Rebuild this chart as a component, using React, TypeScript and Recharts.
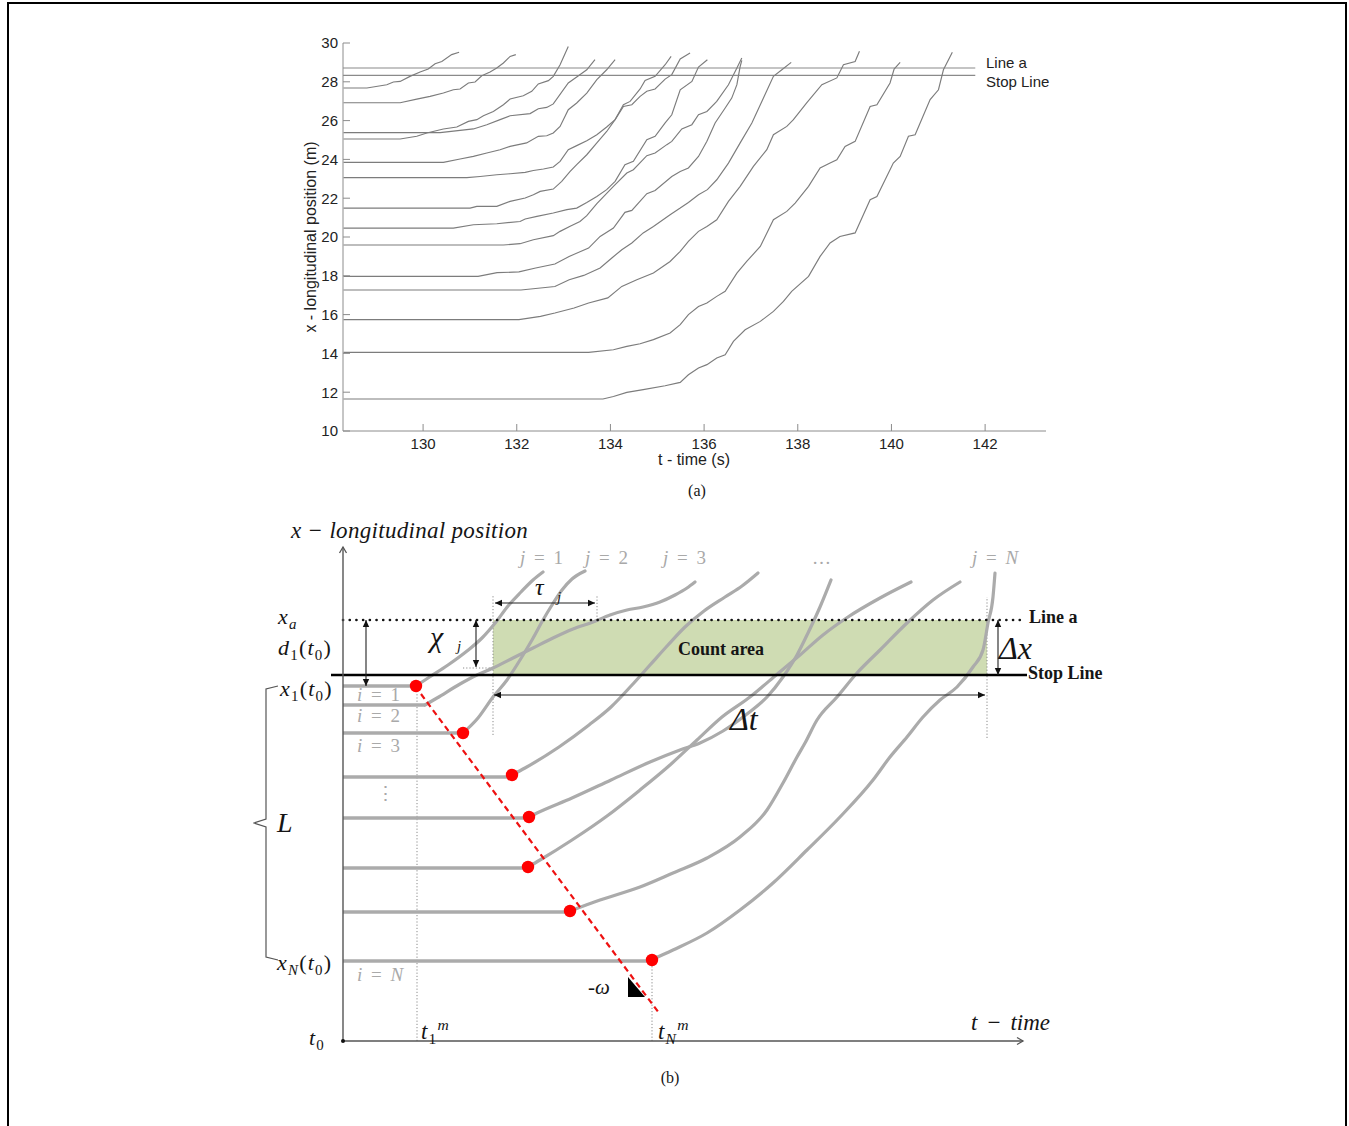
import React from 'react';
import { LineChart, Line, XAxis, YAxis, ComposedChart, Scatter, ReferenceArea } from 'recharts';

// ================= Panel (a): measured trajectories =================
const T_TICKS = [130, 132, 134, 136, 138, 140, 142];
const X_TICKS = [10, 12, 14, 16, 18, 20, 22, 24, 26, 28, 30];
const T_DOMAIN: [number, number] = [128.29, 143.3];
const X_DOMAIN: [number, number] = [10, 30];
const LINE_A_X = 28.71;
const STOP_LINE_X = 28.33;
const REF_T_RANGE = [128.29, 141.79];

const V1 = [[128.3,27.68],[128.8,27.68],[129.225,27.85],[129.366,27.99],[129.51,28.02],[129.72,28.28],[129.936,28.505],[130.11,28.66],[130.256,28.93],[130.4,29.05],[130.61,29.4],[130.769,29.52]];
const V2 = [[128.3,26.92],[129.51,26.92],[129.865,27.11],[130.15,27.25],[130.433,27.42],[130.647,27.59],[130.79,27.63],[130.967,27.94],[131.11,27.99],[131.253,28.31],[131.43,28.505],[131.573,28.71],[131.715,28.97],[131.858,29.31],[131.98,29.4]];
const V3 = [[128.3,25.05],[129.51,25.05],[129.865,25.19],[130.08,25.36],[130.433,25.57],[130.72,25.67],[130.967,25.96],[131.147,26.05],[131.288,26.25],[131.5,26.47],[131.715,26.82],[131.858,27.11],[132.14,27.28],[132.32,27.51],[132.46,27.89],[132.675,28.06],[132.78,28.28],[132.925,28.88],[133.1,29.82]];
const V4 = [[128.3,25.38],[130.363,25.38],[131.074,25.57],[131.36,25.79],[131.644,26.05],[131.858,26.25],[132.285,26.36],[132.46,26.61],[132.64,26.68],[132.78,26.86],[133.1,27.94],[133.28,28.25],[133.495,28.62],[133.67,29.14]];
const V5 = [[128.3,23.85],[130.433,23.85],[130.79,24.02],[131.074,24.155],[131.36,24.33],[131.644,24.5],[131.858,24.67],[132.21,24.85],[132.46,25.19],[132.64,25.22],[132.78,25.36],[132.925,25.7],[133.1,26.56],[133.28,26.91],[133.495,27.42],[133.71,28.11],[133.92,28.62],[134.1,29.14]];
const V6 = [[128.3,23.06],[130.933,23.06],[131.217,23.12],[131.574,23.21],[131.858,23.26],[132.18,23.33],[132.355,23.43],[132.57,23.505],[132.78,23.61],[132.925,23.9],[133.1,24.5],[133.28,24.71],[133.495,24.96],[133.71,25.27],[133.92,25.67],[134.1,26.05],[134.277,26.82],[134.42,26.99],[134.634,27.63],[134.74,28.07],[134.954,28.28],[135.168,28.88],[135.296,29.31]];
const V7 = [[128.3,21.49],[131.004,21.49],[131.147,21.58],[131.574,21.58],[131.858,21.835],[132.18,22.01],[132.355,22.18],[132.5,22.35],[132.78,22.47],[132.96,22.87],[133.14,23.38],[133.28,23.73],[133.495,24.24],[133.71,24.85],[133.92,25.44],[134.1,26.05],[134.277,26.73],[134.457,26.82],[134.634,27.25],[134.777,27.51],[134.954,27.63],[135.168,28.14],[135.31,28.37],[135.49,29.18],[135.7,29.48]];
const V8 = [[128.3,20.46],[130.647,20.46],[131.074,20.63],[131.574,20.685],[132.07,20.8],[132.18,20.93],[132.43,21.06],[132.78,21.24],[133.07,21.41],[133.28,21.49],[133.495,21.78],[133.71,22.09],[133.92,22.44],[134.1,22.87],[134.31,23.73],[134.49,23.9],[134.777,25.02],[134.954,25.19],[135.168,25.88],[135.31,26.3],[135.49,27.59],[135.74,28.02],[135.88,28.76],[136.07,29.14]];
const V9 = [[128.3,19.59],[131.715,19.59],[132.07,19.655],[132.355,19.86],[132.78,20.07],[132.925,20.29],[133.14,20.55],[133.35,20.8],[133.495,21.1],[133.71,21.72],[134.064,22.61],[134.35,23.3],[134.49,23.47],[134.777,24.19],[134.954,24.33],[135.204,24.76],[135.31,24.93],[135.524,25.57],[135.738,25.79],[135.88,26.3],[136.06,26.47],[136.27,26.99],[136.52,27.85],[136.7,28.71],[136.805,29.23]];
const V10 = [[128.3,17.97],[131.174,17.97],[131.58,18.16],[132.046,18.2],[132.404,18.4],[132.814,18.61],[133.118,19.0],[133.534,19.43],[133.78,20.03],[134.064,20.46],[134.31,21.27],[134.457,21.37],[134.777,22.23],[134.954,22.4],[135.31,23.12],[135.49,23.38],[135.665,23.56],[135.88,24.15],[136.06,24.93],[136.235,25.88],[136.45,26.65],[136.59,27.16],[136.7,27.85],[136.77,28.79],[136.805,29.1]];
const V11 = [[128.3,17.27],[132.09,17.27],[132.507,17.37],[132.814,17.45],[133.12,17.8],[133.43,18.02],[133.78,18.4],[134.03,18.92],[134.243,19.345],[134.457,19.69],[134.7,20.21],[134.918,20.545],[135.274,21.15],[135.49,21.49],[135.665,21.78],[135.88,22.18],[136.07,22.44],[136.27,22.95],[136.52,23.81],[136.77,24.85],[137.02,25.88],[137.267,27.16],[137.48,28.28],[137.66,28.62],[137.86,29.0]];
const V12 = [[128.3,15.74],[132.046,15.74],[132.507,15.91],[132.814,16.08],[133.224,16.34],[133.534,16.6],[133.944,16.86],[134.243,17.455],[134.563,17.8],[134.918,18.14],[135.274,18.74],[135.49,19.26],[135.665,19.77],[135.88,20.29],[136.06,20.545],[136.27,20.89],[136.52,21.835],[136.77,22.61],[137.053,23.64],[137.339,24.5],[137.48,25.27],[137.766,25.7],[137.907,26.05],[138.19,26.91],[138.514,27.85],[138.834,28.2],[138.975,28.88],[139.225,29.05],[139.317,29.57]];
const V13 = [[128.3,14.05],[133.534,14.05],[134.064,14.19],[134.35,14.36],[134.634,14.5],[134.918,14.71],[135.274,15.05],[135.49,15.48],[135.665,16.0],[135.88,16.42],[136.06,16.6],[136.27,16.94],[136.45,17.2],[136.7,18.14],[136.91,18.74],[137.2,19.515],[137.48,20.89],[137.766,21.32],[137.944,21.75],[138.23,22.61],[138.477,23.56],[138.69,23.81],[138.834,23.98],[139.01,24.67],[139.225,24.93],[139.545,26.73],[139.69,26.82],[139.97,27.94],[140.057,28.66],[140.186,29.0]];
const V14 = [[128.3,11.65],[133.84,11.65],[134.064,11.78],[134.35,11.99],[134.7,12.13],[135.168,12.335],[135.49,12.505],[135.665,12.9],[135.88,13.25],[136.06,13.42],[136.27,13.76],[136.45,13.93],[136.626,14.62],[136.876,15.22],[137.2,15.65],[137.48,16.165],[137.694,16.68],[137.87,17.2],[138.23,17.97],[138.477,19.0],[138.69,19.69],[138.9,20.03],[139.225,20.21],[139.545,21.92],[139.69,22.09],[140.04,23.81],[140.186,24.155],[140.363,25.19],[140.506,25.27],[140.826,27.08],[141.004,27.59],[141.11,28.62],[141.3,29.52]];
const VEHICLES_A = [V1, V2, V3, V4, V5, V6, V7, V8, V9, V10, V11, V12, V13, V14];

// ================= Panel (b): schematic (schematic units) =================
const STOP_LEVELS_B = [355, 336, 308, 264, 223, 173, 129, 80];
const STOP_ENDS_B = [72, 82, 120, 169, 186, 185, 227, 308];
const RED_DOTS_B = [[73,355],[120,308],[169,266],[186,224],[185,174],[227,130],[309,81]];
const SHOCK_LINE_B = [[72,355],[316,28]];
const C1 = [[73,355],[85,363],[105,376],[124,390],[139,403],[153,419],[165,435],[178,449],[190,461],[200,469]];
const C2 = [[82,336],[94,343],[117,357],[134,366],[150,373],[170,383],[190,393],[210,403],[230,412],[250,419],[267,426],[284,431],[300,434],[317,439],[332,446],[344,453],[352,459]];
const C3 = [[120,308],[135,323],[150,344],[164,361],[177,381],[189,401],[200,421],[209,436],[219,451],[229,462],[242,470]];
const C4 = [[169,266],[182,273],[216,294],[246,316],[268,334],[289,356],[307,376],[325,396],[342,414],[361,430],[382,444],[399,455],[415,468]];
const C5 = [[186,224],[194,228],[229,243],[268,261],[307,279],[337,291],[357,298],[380,310],[404,327],[424,344],[440,364],[454,386],[465,408],[477,434],[488,461]];
const C6 = [[185,174],[197,181],[229,201],[264,225],[297,251],[327,276],[354,301],[379,324],[407,344],[432,365],[457,386],[480,406],[505,424],[537,443],[568,459]];
const C7 = [[227,130],[257,141],[297,154],[330,168],[364,183],[397,204],[424,231],[440,258],[454,284],[462,298],[474,321],[494,344],[514,368],[537,391],[564,418],[590,441],[617,459]];
const C8 = [[308,81],[330,91],[364,108],[397,131],[430,158],[464,191],[497,224],[530,261],[547,284],[564,304],[580,324],[597,341],[614,354],[630,374],[640,391],[645,418],[650,444],[652,468]];
const CURVES_B = [C1, C2, C3, C4, C5, C6, C7, C8];

const COUNT_AREA_B = { t1: 150, t2: 644, x1: 366, x2: 421 };
const LINE_A_B = [[0,421],[682,421]];
const STOP_LINE_B = [[-12,366],[684,366]];
const AXIS_Y_B = [[0,0],[0,494]];
const AXIS_X_B = [[0,0],[680,0]];
const DOTTED_GUIDES_B = [
  [[150,306],[150,446]],
  [[644,303],[644,444]],
  [[254,421],[254,446]],
  [[74,0],[74,355]],
  [[309,0],[309,81]],
  [[120,373],[150,373]],
];
const ARROWS_B = [
  [[23,421],[23,355]],
  [[133,421],[133,374]],
  [[152,438],[252,438]],
  [[151,346],[642,346]],
  [[655,421],[655,366]],
];
const HEADS_B = [
  { T: 23, X: 421, dir: 'up' }, { T: 23, X: 355, dir: 'down' },
  { T: 133, X: 421, dir: 'up' }, { T: 133, X: 374, dir: 'down' },
  { T: 152, X: 438, dir: 'left' }, { T: 252, X: 438, dir: 'right' },
  { T: 151, X: 346, dir: 'left' }, { T: 642, X: 346, dir: 'right' },
  { T: 655, X: 421, dir: 'up' }, { T: 655, X: 366, dir: 'down' },
  { T: 0, X: 494, dir: 'up-open' }, { T: 680, X: 0, dir: 'right-open' },
];
const BRACE_B = [[-65,355],[-77,352],[-77,222],[-89,218],[-77,214],[-77,84],[-65,81]];
const OMEGA_MARK_B = [{ T: 285, X: 44 }];
const ORIGIN_B = [{ T: 0, X: 0 }];

const toA = (pts: number[][]) => pts.map(([t, x]) => ({ t, x }));
const toB = (pts: number[][]) => pts.map(([T, X]) => ({ T, X }));

const SERIF = "'Liberation Serif', 'Times New Roman', serif";
const SANS = "'Liberation Sans', Arial, Helvetica, sans-serif";
const GREY_TXT = '#a9a9a9';
const TRAJ = '#ababab';

const HeadShape = (props: any) => {
  const { cx, cy, payload } = props;
  const L = 7, W = 3.2;
  switch (payload.dir) {
    case 'up': return <polygon points={`${cx},${cy} ${cx - W},${cy + L} ${cx + W},${cy + L}`} fill="#111" />;
    case 'down': return <polygon points={`${cx},${cy} ${cx - W},${cy - L} ${cx + W},${cy - L}`} fill="#111" />;
    case 'left': return <polygon points={`${cx},${cy} ${cx + L},${cy - W} ${cx + L},${cy + W}`} fill="#111" />;
    case 'right': return <polygon points={`${cx},${cy} ${cx - L},${cy - W} ${cx - L},${cy + W}`} fill="#111" />;
    case 'up-open': return <path d={`M${cx - 3.5},${cy + 6} L${cx},${cy} L${cx + 3.5},${cy + 6}`} fill="none" stroke="#555" strokeWidth={1.3} />;
    case 'right-open': return <path d={`M${cx - 6},${cy - 3.5} L${cx},${cy} L${cx - 6},${cy + 3.5}`} fill="none" stroke="#555" strokeWidth={1.3} />;
    default: return <g />;
  }
};
const RedDot = (p: any) => <circle cx={p.cx} cy={p.cy} r={6.2} fill="#ff0000" />;
const OmegaTri = (p: any) => <polygon points={`${p.cx},${p.cy - 20} ${p.cx},${p.cy} ${p.cx + 17},${p.cy}`} fill="#000" />;
const OriginDot = (p: any) => <circle cx={p.cx} cy={p.cy} r={2} fill="#111" />;

type TxtProps = { x: number; y: number; size: number; children: React.ReactNode; color?: string; italic?: boolean; bold?: boolean; family?: string; center?: boolean; style?: React.CSSProperties };
const Txt = ({ x, y, size, children, color = '#151515', italic = false, bold = false, family = SERIF, center = false, style }: TxtProps) => (
  <div style={{ position: 'absolute', left: x, top: y, transform: center ? 'translate(-50%,-50%)' : 'translateY(-50%)', fontSize: size, lineHeight: 1, fontFamily: family, fontStyle: italic ? 'italic' : 'normal', fontWeight: bold ? 'bold' : 'normal', color, whiteSpace: 'nowrap', ...style }}>{children}</div>
);
const Sub = ({ children }: { children: React.ReactNode }) => <span style={{ fontSize: '0.68em', position: 'relative', top: '0.32em' }}>{children}</span>;
const Sup = ({ children }: { children: React.ReactNode }) => <span style={{ fontSize: '0.68em', position: 'relative', top: '-0.55em' }}>{children}</span>;

const MATH: React.CSSProperties = { letterSpacing: '1.2px' };
const IDX: React.CSSProperties = { wordSpacing: '4px' };

function PanelA() {
  return (
    <div style={{ position: 'absolute', left: 0, top: 0 }}>
      <LineChart width={1349} height={480} margin={{ top: 43, right: 303, bottom: 9, left: 303 }}>
        <XAxis type="number" dataKey="t" domain={T_DOMAIN} ticks={T_TICKS} allowDataOverflow height={40}
          tickSize={-7} tickMargin={14} axisLine={{ stroke: '#8c8c8c' }} tickLine={{ stroke: '#8c8c8c' }}
          tick={{ fill: '#222', fontSize: 15, fontFamily: SANS }} />
        <YAxis type="number" dataKey="x" domain={X_DOMAIN} ticks={X_TICKS} allowDataOverflow width={40}
          tickSize={-7} tickMargin={12} axisLine={{ stroke: '#8c8c8c' }} tickLine={{ stroke: '#8c8c8c' }}
          tick={{ fill: '#222', fontSize: 15, fontFamily: SANS }} />
        <Line data={toA([[REF_T_RANGE[0], LINE_A_X], [REF_T_RANGE[1], LINE_A_X]])} dataKey="x" stroke="#8a8a8a" strokeWidth={1.1} dot={false} activeDot={false} isAnimationActive={false} />
        <Line data={toA([[REF_T_RANGE[0], STOP_LINE_X], [REF_T_RANGE[1], STOP_LINE_X]])} dataKey="x" stroke="#8a8a8a" strokeWidth={1.1} dot={false} activeDot={false} isAnimationActive={false} />
        {VEHICLES_A.map((v, i) => (
          <Line key={i} data={toA(v)} dataKey="x" type="linear" stroke="#7c7c7c" strokeWidth={1.15} dot={false} activeDot={false} isAnimationActive={false} />
        ))}
      </LineChart>
      <Txt x={311} y={237} size={16} family={SANS} center style={{ transform: 'translate(-50%,-50%) rotate(-90deg)' }} color="#222">x - longitudinal position (m)</Txt>
      <Txt x={694} y={460} size={16} family={SANS} center color="#222">t - time (s)</Txt>
      <Txt x={986} y={62} size={15} family={SANS} color="#222">Line a</Txt>
      <Txt x={986} y={81} size={15} family={SANS} color="#222">Stop Line</Txt>
      <Txt x={697} y={491} size={16} center>(a)</Txt>
    </div>
  );
}

function PanelB() {
  const common = { dot: false as const, activeDot: false as const, isAnimationActive: false, legendType: 'none' as const };
  return (
    <div style={{ position: 'absolute', left: 253, top: 521 }}>
      <ComposedChart width={860} height={580} margin={{ top: 0, right: 0, bottom: 0, left: 0 }}>
        <XAxis type="number" dataKey="T" domain={[-90, 770]} allowDataOverflow hide />
        <YAxis type="number" dataKey="X" domain={[-60, 520]} allowDataOverflow hide />
        <ReferenceArea x1={COUNT_AREA_B.t1} x2={COUNT_AREA_B.t2} y1={COUNT_AREA_B.x1} y2={COUNT_AREA_B.x2} fill="#cfdcb3" fillOpacity={1} stroke="none" />
        {DOTTED_GUIDES_B.map((g, i) => (
          <Line key={'g' + i} data={toB(g)} dataKey="X" stroke="#8a8a8a" strokeWidth={1} strokeDasharray="1.2 2" {...common} />
        ))}
        {STOP_LEVELS_B.map((lvl, i) => (
          <Line key={'s' + i} data={toB([[0, lvl], [STOP_ENDS_B[i], lvl]])} dataKey="X" stroke={TRAJ} strokeWidth={3.6} {...common} />
        ))}
        {CURVES_B.map((c, i) => (
          <Line key={'c' + i} data={toB(c)} dataKey="X" type="monotone" stroke={TRAJ} strokeWidth={3.2} strokeLinecap="round" {...common} />
        ))}
        <Line data={toB(LINE_A_B)} dataKey="X" stroke="#111" strokeWidth={2.6} strokeDasharray="0.1 6.6" strokeLinecap="round" {...common} />
        <Line data={toB(STOP_LINE_B)} dataKey="X" stroke="#000" strokeWidth={2.6} {...common} />
        <Line data={toB(SHOCK_LINE_B)} dataKey="X" stroke="#ee1111" strokeWidth={2.2} strokeDasharray="6 4" {...common} />
        {ARROWS_B.map((a, i) => (
          <Line key={'a' + i} data={toB(a)} dataKey="X" stroke="#222" strokeWidth={1.1} {...common} />
        ))}
        <Line data={toB(AXIS_Y_B)} dataKey="X" stroke="#555" strokeWidth={1.4} {...common} />
        <Line data={toB(AXIS_X_B)} dataKey="X" stroke="#555" strokeWidth={1.4} {...common} />
        <Line data={toB(BRACE_B)} dataKey="X" stroke="#555" strokeWidth={1.2} {...common} />
        <Scatter data={toB(RED_DOTS_B)} shape={RedDot} isAnimationActive={false} legendType="none" />
        <Scatter data={HEADS_B} shape={HeadShape} isAnimationActive={false} legendType="none" />
        <Scatter data={OMEGA_MARK_B} shape={OmegaTri} isAnimationActive={false} legendType="none" />
        <Scatter data={ORIGIN_B} shape={OriginDot} isAnimationActive={false} legendType="none" />
      </ComposedChart>
    </div>
  );
}

function LabelsB() {
  const g = GREY_TXT;
  return (
    <>
      <Txt x={291} y={530} size={23} italic style={{ letterSpacing: '0.3px' }}>x − longitudinal position</Txt>
      <Txt x={520} y={557} size={19} color={g} style={IDX}><i>j</i> = 1</Txt>
      <Txt x={585} y={557} size={19} color={g} style={IDX}><i>j</i> = 2</Txt>
      <Txt x={663} y={557} size={19} color={g} style={IDX}><i>j</i> = 3</Txt>
      <Txt x={812} y={557} size={19} color={g}>…</Txt>
      <Txt x={972} y={557} size={19} color={g} style={IDX}><i>j</i> = <i>N</i></Txt>
      <Txt x={278} y={617} size={22} style={MATH}><i>x</i><Sub><i>a</i></Sub></Txt>
      <Txt x={278} y={648} size={22} style={MATH}><i>d</i><Sub>1</Sub>(<i>t</i><Sub>0</Sub>)</Txt>
      <Txt x={280} y={689} size={22} style={MATH}><i>x</i><Sub>1</Sub>(<i>t</i><Sub>0</Sub>)</Txt>
      <Txt x={277} y={823} size={28} italic>L</Txt>
      <Txt x={277} y={963} size={22} style={MATH}><i>x</i><Sub><i>N</i></Sub>(<i>t</i><Sub>0</Sub>)</Txt>
      <Txt x={309} y={1038} size={22} style={MATH}><i>t</i><Sub>0</Sub></Txt>
      <Txt x={421} y={1031} size={23} style={MATH}><i>t</i><Sub>1</Sub><Sup><i>m</i></Sup></Txt>
      <Txt x={658} y={1031} size={23} style={MATH}><i>t</i><Sub><i>N</i></Sub><Sup><i>m</i></Sup></Txt>
      <Txt x={971} y={1022} size={23} italic style={{ wordSpacing: '3px' }}>t − time</Txt>
      <Txt x={588} y={987} size={21} italic>-ω</Txt>
      <Txt x={357} y={694} size={19} color={g} style={IDX}><i>i</i> = 1</Txt>
      <Txt x={357} y={715} size={19} color={g} style={IDX}><i>i</i> = 2</Txt>
      <Txt x={357} y={745} size={19} color={g} style={IDX}><i>i</i> = 3</Txt>
      <Txt x={376} y={793} size={19} color={g}>⋮</Txt>
      <Txt x={357} y={974} size={19} color={g} style={IDX}><i>i</i> = <i>N</i></Txt>
      <Txt x={535} y={587} size={24} italic>τ</Txt>
      <Txt x={557} y={597} size={15} italic>j</Txt>
      <Txt x={430} y={637} size={30} italic>χ</Txt>
      <Txt x={457} y={646} size={15} italic>j</Txt>
      <Txt x={721} y={649} size={18} bold center>Count area</Txt>
      <Txt x={1029} y={617} size={18} bold>Line a</Txt>
      <Txt x={1028} y={673} size={18} bold>Stop Line</Txt>
      <Txt x={999} y={648} size={32} italic>Δx</Txt>
      <Txt x={730} y={719} size={32} italic>Δt</Txt>
      <Txt x={670} y={1078} size={16} center>(b)</Txt>
    </>
  );
}

export default function App() {
  return (
    <div style={{ position: 'absolute', left: 0, top: 0, width: 1349, height: 1126, overflow: 'hidden', background: '#fff' }}>
      <div style={{ position: 'absolute', left: 7, top: 2, width: 1340, height: 1200, border: '2px solid #000', boxSizing: 'border-box' }} />
      <PanelA />
      <PanelB />
      <LabelsB />
    </div>
  );
}
